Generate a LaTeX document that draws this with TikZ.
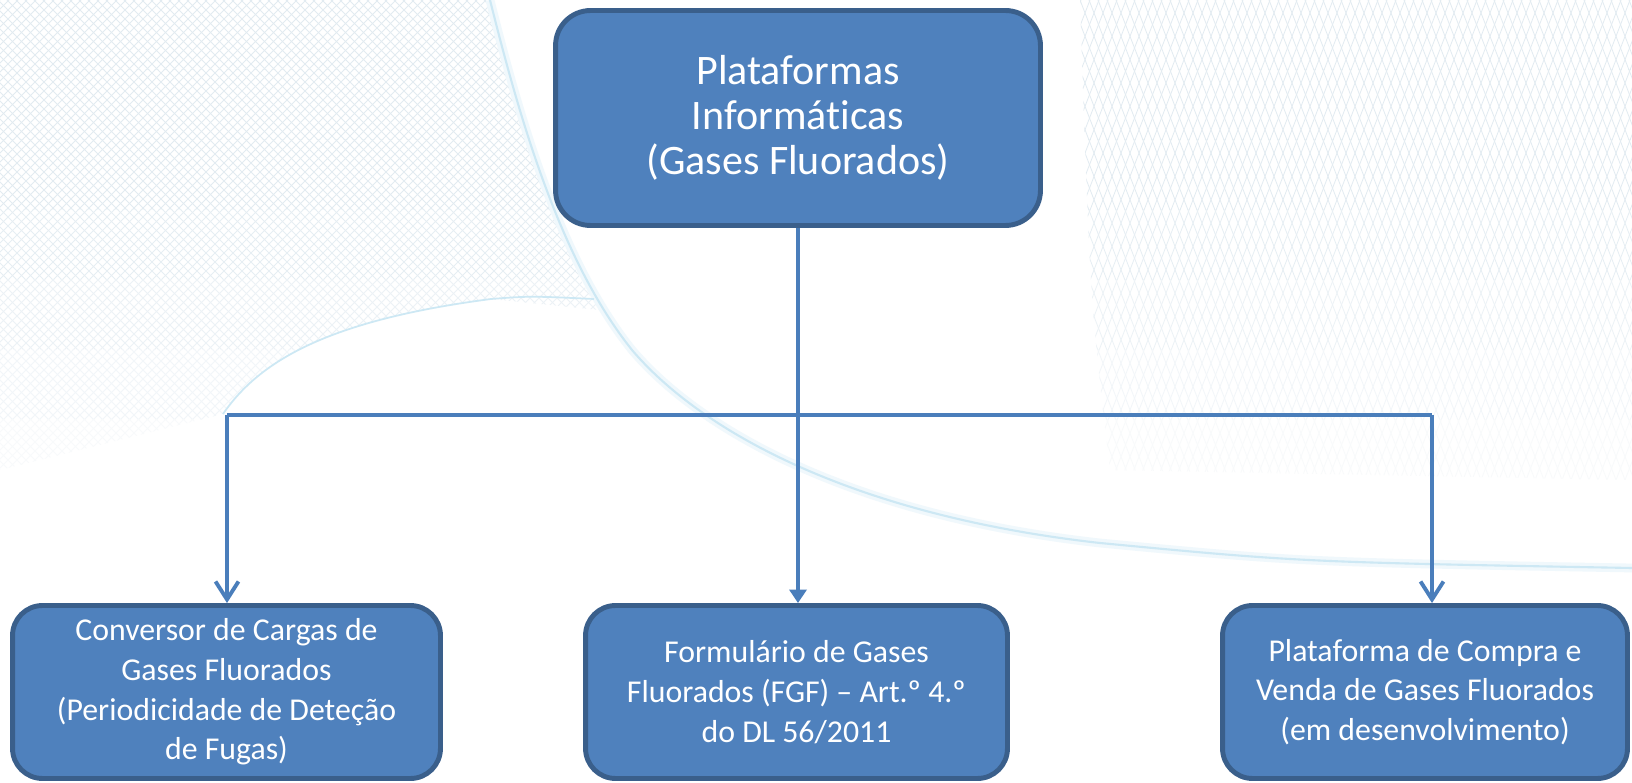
\documentclass[tikz,border=0pt]{standalone}
\usepackage{fontspec}
\setmainfont{Carlito}[Ligatures={TeX,NoCommon}]
\usetikzlibrary{arrows.meta}
\definecolor{boxfill}{HTML}{4F81BD}
\definecolor{boxline}{HTML}{3A5F8B}
\definecolor{linkblue}{HTML}{4A7EBB}
\definecolor{meshblue}{HTML}{E2EBF1}
\definecolor{sweep}{HTML}{CDE8F4}
\definecolor{glow}{HTML}{F0F8FC}
\begin{document}
\begin{tikzpicture}[x=0.02cm,y=-0.02cm,
    box/.style={draw=boxline,fill=boxfill,line width=2.8pt,rounded corners=0.6cm,
      text=white,align=center,font=\fontsize{18.1}{22.6}\selectfont},
    link/.style={draw=linkblue,line width=2.2pt},
    barb/.style={-{Straight Barb[length=0.36cm,width=0.46cm]}},
    mesh/.style={line width=0.45pt}]
    \useasboundingbox (0,0) rectangle (1632,783);
    \fill [white] (0,0) rectangle (1632,783);
    % background mesh, fading out downwards
    \begin{scope}
        \clip (0,0) -- (490,0) .. controls (520,120) and (560,260) .. (600,310)
            -- (491,299) .. controls (330,320) and (260,360) .. (223,414) -- (0,470) -- cycle;
        \foreach \k/\c in {0/100,1/100,2/100,3/85,4/65,5/45,6/25} {
            \begin{scope}
                \clip (0,\k*70) rectangle (700,\k*70+70);
                \foreach \i in {-470,-461,...,600} \draw [mesh,meshblue!\c!white] (\i,0) -- ++(470,470);
                \foreach \i in {0,9,...,1070} \draw [mesh,meshblue!\c!white] (\i,0) -- ++(-470,470);
            \end{scope}
        }
    \end{scope}
    \begin{scope}
        \clip (1080,0) -- (1632,0) -- (1632,480) -- (1110,470) .. controls (1090,300) .. (1080,0) -- cycle;
        \foreach \k/\c in {0/100,1/100,2/100,3/85,4/65,5/45,6/25} {
            \begin{scope}
                \clip (1000,\k*70) rectangle (1632,\k*70+70);
                \foreach \i in {900,909,...,1700} \draw [mesh,meshblue!\c!white] (\i,0) -- ++(185,480);
                \foreach \i in {1000,1009,...,1900} \draw [mesh,meshblue!\c!white] (\i,0) -- ++(-185,480);
            \end{scope}
        }
    \end{scope}
    \draw [glow,line width=5pt] (490,0) .. controls (520,120) and (560,260) .. (632,350)
        .. controls (700,430) and (850,515) .. (1100,543) .. controls (1300,562) .. (1632,568);
    \draw [sweep,line width=1.2pt] (490,0) .. controls (520,120) and (560,260) .. (632,350)
        .. controls (700,430) and (850,515) .. (1100,543) .. controls (1300,562) .. (1632,568);
    \draw [sweep,line width=1pt] (223,414) .. controls (260,360) and (330,320) .. (491,299)
        .. controls (530,296) .. (594,299);
    % boxes
    \node [box,rounded corners=0.7cm,minimum width=9.7cm,minimum height=4.3cm,
        font=\fontsize{23.9}{25.8}\selectfont] (plat) at (798,118)
        {Plataformas\\Informáticas\\(Gases Fluorados)};
    \node [box,minimum width=8.56cm,minimum height=3.46cm] (conv) at (226.5,692)
        {Conversor de Cargas de\\Gases Fluorados\\(Periodicidade de Deteção\\de Fugas)};
    \node [box,minimum width=8.44cm,minimum height=3.46cm] (form) at (796.5,692)
        {Formulário de Gases\\Fluorados (FGF) – Art.º 4.º\\do DL 56/2011};
    \node [box,minimum width=8.1cm,minimum height=3.46cm] (venda) at (1425,692)
        {Plataforma de Compra e\\Venda de Gases Fluorados\\(em desenvolvimento)};
    % connectors
    \coordinate (busl) at (227,415);
    \coordinate (busr) at (1432,415);
    \draw [link] (busl) -- (busr);
    \draw [link,-{Triangle[length=0.27cm,width=0.34cm]}] (plat.south) -- (plat.south |- form.north);
    \draw [link,barb] (busl) -- (busl |- conv.north);
    \draw [link,barb] (busr) -- (busr |- venda.north);
\end{tikzpicture}
\end{document}
